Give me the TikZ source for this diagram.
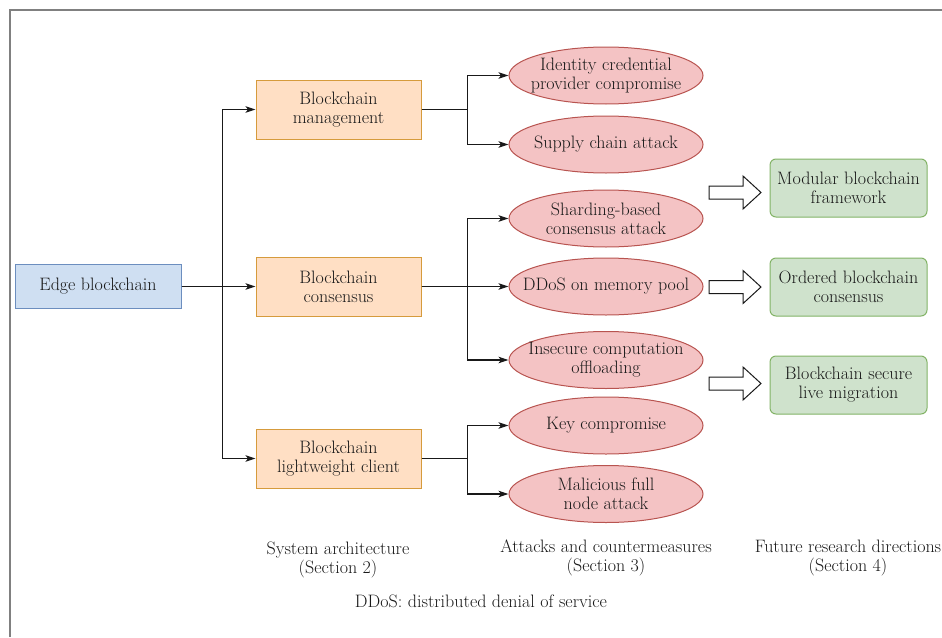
\documentclass[tikz,border=0pt]{standalone}
\usepackage{fontspec}
\usetikzlibrary{shapes.geometric,arrows.meta}
\definecolor{edgefill}{RGB}{207,223,242}
\definecolor{edgeline}{RGB}{108,142,191}
\definecolor{layfill}{RGB}{255,223,196}
\definecolor{layline}{RGB}{214,155,60}
\definecolor{atkfill}{RGB}{244,195,196}
\definecolor{atkline}{RGB}{184,84,80}
\definecolor{dirfill}{RGB}{207,226,204}
\definecolor{dirline}{RGB}{130,179,102}
\definecolor{ink}{RGB}{25,25,25}
\begin{document}
\begin{tikzpicture}[x=1pt,y=-1pt,
	font=\fontsize{18}{19}\selectfont, text=ink,
	edgebox/.style={rectangle,draw=edgeline,fill=edgefill,line width=1pt,minimum width=166pt,minimum height=44pt,inner sep=0pt},
	laybox/.style={rectangle,draw=layline,fill=layfill,line width=1pt,minimum width=165pt,minimum height=59pt,inner sep=0pt,align=center},
	atk/.style={ellipse,draw=atkline,fill=atkfill,line width=1pt,minimum width=194pt,minimum height=57pt,inner xsep=-40pt,inner ysep=-8pt,align=center},
	dirbox/.style={rectangle,rounded corners=6pt,draw=dirline,fill=dirfill,line width=1pt,minimum width=157pt,minimum height=58pt,inner sep=0pt,align=center},
	conn/.style={-{Stealth[length=10pt,width=6.5pt,inset=2.5pt]},line width=1.1pt,draw=ink},
	fat/.style={draw=ink,fill=white,line width=1pt,line join=miter},
	caption/.style={align=center}]
		\useasboundingbox (0,0) rectangle (942,637);
		\draw[gray,line width=1.4pt] (10,637) -- (10,10) -- (942,10);
		% system architecture
		\node[edgebox] (edge) at (98,286.5) {Edge blockchain};
		\node[laybox] (mgmt) at (338.5,109.5) {Blockchain\\management};
		\node[laybox] (cons) at (338.5,286.5) {Blockchain\\consensus};
		\node[laybox] (light) at (338.5,458.5) {Blockchain\\lightweight client};
		\draw[conn] (edge.east) -- ++(41,0) |- (mgmt);
		\draw[conn] (edge.east) -- (cons.west);
		\draw[conn] (edge.east) -- ++(41,0) |- (light);
		% attacks and countermeasures
		\node[atk] (idc) at (606,75.5) {Identity credential\\provider compromise};
		\node[atk] (supply) at (606,144.5) {Supply chain attack};
		\node[atk] (shard) at (606,218.5) {Sharding-based\\consensus attack};
		\node[atk] (ddos) at (606,286.5) {DDoS on memory pool};
		\node[atk] (offload) at (606,360) {Insecure computation\\offloading};
		\node[atk] (key) at (606,425.5) {Key compromise};
		\node[atk] (fullnode) at (606,494) {Malicious full\\node attack};
		\draw[conn] (mgmt.east) -- ++(46,0) |- (idc);
		\draw[conn] (mgmt.east) -- ++(46,0) |- (supply);
		\draw[conn] (cons.east) -- ++(46,0) |- (shard);
		\draw[conn] (cons.east) -- (ddos);
		\draw[conn] (cons.east) -- ++(46,0) |- (offload);
		\draw[conn] (light.east) -- ++(46,0) |- (key);
		\draw[conn] (light.east) -- ++(46,0) |- (fullnode);
		% future research directions
		\node[dirbox] (modular) at (848.5,188) {Modular blockchain\\framework};
		\node[dirbox] (ordered) at (848.5,287) {Ordered blockchain\\consensus};
		\node[dirbox] (migrate) at (848.5,385) {Blockchain secure\\live migration};
		\draw[fat] (709,186) -- (743,186) -- (743,176) -- (761,192.5) -- (743,209) -- (743,199) -- (709,199) -- cycle;
		\draw[fat] (709,280.5) -- (743,280.5) -- (743,270.5) -- (761,287) -- (743,303.5) -- (743,293.5) -- (709,293.5) -- cycle;
		\draw[fat] (709,377) -- (743,377) -- (743,367) -- (761,383.5) -- (743,400) -- (743,390) -- (709,390) -- cycle;
		% captions
		\node[caption] (capa) at (338,560) {System architecture\\(Section 2)};
		\node[caption] (capb) at (606,558) {Attacks and countermeasures\\(Section 3)};
		\node[caption] (capc) at (848,558) {Future research directions\\(Section 4)};
		\node[caption] (note) at (481,601) {DDoS: distributed denial of service};
\end{tikzpicture}
\end{document}
